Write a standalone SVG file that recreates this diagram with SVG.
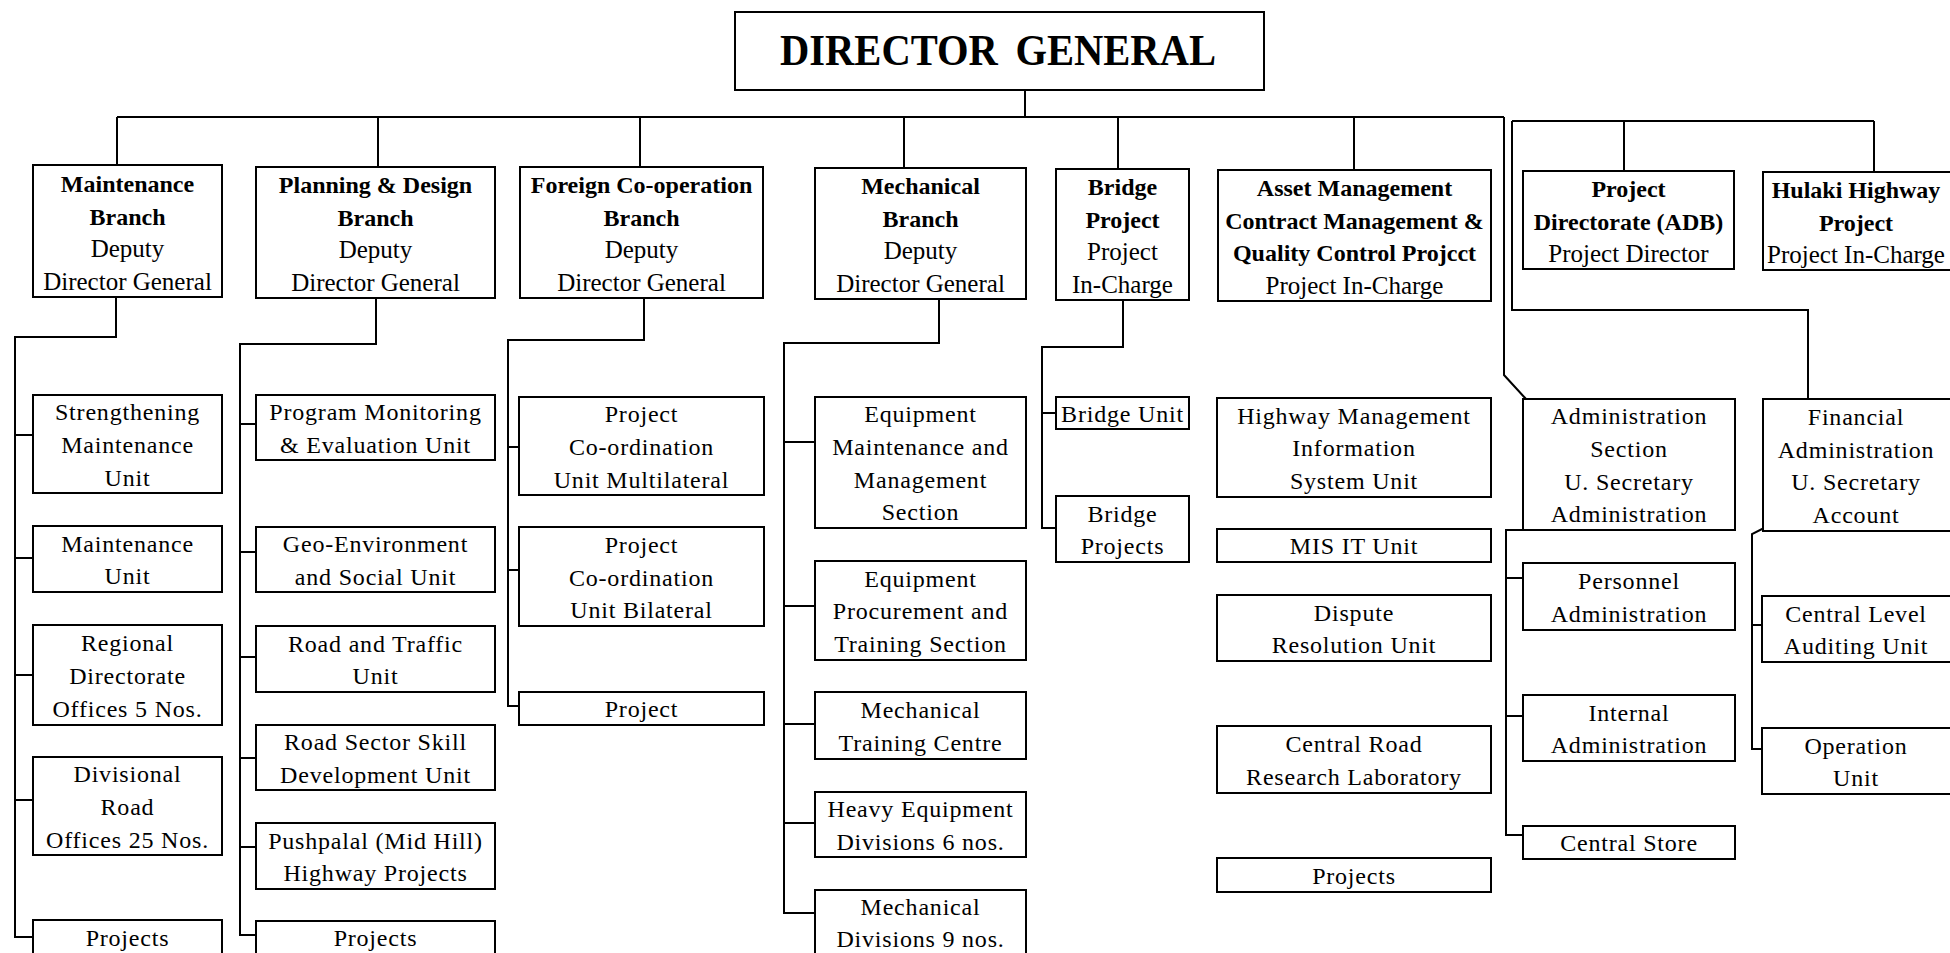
<svg xmlns="http://www.w3.org/2000/svg" width="1950" height="953" viewBox="0 0 1950 953">
  <style>
    .box { fill: #ffffff; stroke: #000000; stroke-width: 2; }
    .wire { fill: none; stroke: #000000; stroke-width: 2; stroke-linejoin: miter; }
    text { font-family: "Liberation Serif", "Times New Roman", serif; fill: #000000; text-anchor: middle; }
    .title { font-size: 44px; font-weight: bold; word-spacing: 8px; }
    .hb { font-size: 24px; font-weight: bold; }
    .hr { font-size: 25px; }
    .t { font-size: 24px; letter-spacing: 0.8px; }
  </style>
  <rect x="0" y="0" width="1950" height="953" fill="#ffffff"/>

  <!-- connectors -->
  <g id="connectors" class="wire">
    <!-- top bar and branch drops -->
    <path d="M1025,90 V117"/>
    <path d="M117,117 H1504"/>
    <path d="M117,117 V165 M378,117 V167 M640,117 V167 M904,117 V168 M1118,117 V169 M1354,117 V170"/>
    <path d="M1504,117 V375 L1526,399"/>
    <path d="M1512,121 H1874 M1624,121 V171 M1874,121 V172"/>
    <path d="M1512,121 V310 H1808 V399"/>
    <!-- maintenance branch units -->
    <path d="M116,297 V337 H15 V937 H33 M15,435 H33 M15,558 H33 M15,675 H33 M15,800 H33"/>
    <!-- planning & design units -->
    <path d="M376,298 V344 H240 V935 H256 M240,424 H256 M240,552 H256 M240,657 H256 M240,758 H256 M240,847 H256"/>
    <!-- foreign co-operation units -->
    <path d="M644,298 V340 H508 V706 H519 M508,447 H519 M508,570 H519"/>
    <!-- mechanical units -->
    <path d="M939,299 V343 H784 V913 H815 M784,442 H815 M784,606 H815 M784,724 H815 M784,823 H815"/>
    <!-- bridge units -->
    <path d="M1123,300 V347 H1042 V528 H1056 M1042,413 H1056"/>
    <!-- administration units -->
    <path d="M1523,530 H1506 V835 H1523 M1506,578 H1523 M1506,716 H1523"/>
    <!-- financial units -->
    <path d="M1766,527 L1752,534 V749 H1762 M1752,625 H1762"/>
  </g>

  <!-- head -->
  <g id="director-general">
    <rect class="box" x="735" y="12" width="529" height="78"/>
    <text class="title" x="998" y="65" textLength="436" lengthAdjust="spacingAndGlyphs">DIRECTOR GENERAL</text>
  </g>

  <!-- branches -->
  <g id="maintenance-branch">
    <rect class="box" x="33" y="165" width="189" height="132"/>
    <text x="127.5"><tspan class="hb" x="127.5" y="192">Maintenance</tspan><tspan class="hb" x="127.5" y="225">Branch</tspan><tspan class="hr" x="127.5" y="257">Deputy</tspan><tspan class="hr" x="127.5" y="290">Director General</tspan></text>
  </g>
  <g id="planning-design-branch">
    <rect class="box" x="256" y="167" width="239" height="131"/>
    <text><tspan class="hb" x="375.5" y="193">Planning &amp; Design</tspan><tspan class="hb" x="375.5" y="226">Branch</tspan><tspan class="hr" x="375.5" y="258">Deputy</tspan><tspan class="hr" x="375.5" y="291">Director General</tspan></text>
  </g>
  <g id="foreign-cooperation-branch">
    <rect class="box" x="520" y="167" width="243" height="131"/>
    <text><tspan class="hb" x="641.5" y="193">Foreign Co-operation</tspan><tspan class="hb" x="641.5" y="226">Branch</tspan><tspan class="hr" x="641.5" y="258">Deputy</tspan><tspan class="hr" x="641.5" y="291">Director General</tspan></text>
  </g>
  <g id="mechanical-branch">
    <rect class="box" x="815" y="168" width="211" height="131"/>
    <text><tspan class="hb" x="920.5" y="194">Mechanical</tspan><tspan class="hb" x="920.5" y="227">Branch</tspan><tspan class="hr" x="920.5" y="259">Deputy</tspan><tspan class="hr" x="920.5" y="292">Director General</tspan></text>
  </g>
  <g id="bridge-project">
    <rect class="box" x="1056" y="169" width="133" height="131"/>
    <text><tspan class="hb" x="1122.5" y="195">Bridge</tspan><tspan class="hb" x="1122.5" y="228">Project</tspan><tspan class="hr" x="1122.5" y="260">Project</tspan><tspan class="hr" x="1122.5" y="293">In-Charge</tspan></text>
  </g>
  <g id="asset-management">
    <rect class="box" x="1218" y="170" width="273" height="131"/>
    <text><tspan class="hb" x="1354.5" y="196">Asset Management</tspan><tspan class="hb" x="1354.5" y="229">Contract Management &amp;</tspan><tspan class="hb" x="1354.5" y="261">Quality Control Projcct</tspan><tspan class="hr" x="1354.5" y="294">Project In-Charge</tspan></text>
  </g>
  <g id="project-directorate-adb">
    <rect class="box" x="1523" y="171" width="211" height="98"/>
    <text><tspan class="hb" x="1628.5" y="197">Project</tspan><tspan class="hb" x="1628.5" y="230">Directorate (ADB)</tspan><tspan class="hr" x="1628.5" y="262">Project Director</tspan></text>
  </g>
  <g id="hulaki-highway">
    <rect class="box" x="1763" y="172" width="200" height="98"/>
    <text><tspan class="hb" x="1856" y="198">Hulaki Highway</tspan><tspan class="hb" x="1856" y="231">Project</tspan><tspan class="hr" x="1856" y="263">Project In-Charge</tspan></text>
  </g>

  <!-- maintenance branch units -->
  <g id="strengthening-maintenance">
    <rect class="box" x="33" y="395" width="189" height="98"/>
    <text class="t"><tspan x="127.5" y="420">Strengthening</tspan><tspan x="127.5" y="453">Maintenance</tspan><tspan x="127.5" y="486">Unit</tspan></text>
  </g>
  <g id="maintenance-unit">
    <rect class="box" x="33" y="526" width="189" height="66"/>
    <text class="t"><tspan x="127.5" y="552">Maintenance</tspan><tspan x="127.5" y="584">Unit</tspan></text>
  </g>
  <g id="regional-directorate">
    <rect class="box" x="33" y="625" width="189" height="100"/>
    <text class="t"><tspan x="127.5" y="651">Regional</tspan><tspan x="127.5" y="684">Directorate</tspan><tspan x="127.5" y="717">Offices 5 Nos.</tspan></text>
  </g>
  <g id="divisional-road">
    <rect class="box" x="33" y="757" width="189" height="98"/>
    <text class="t"><tspan x="127.5" y="782">Divisional</tspan><tspan x="127.5" y="815">Road</tspan><tspan x="127.5" y="848">Offices 25 Nos.</tspan></text>
  </g>
  <g id="maintenance-projects">
    <rect class="box" x="33" y="920" width="189" height="50"/>
    <text class="t" x="127.5" y="946">Projects</text>
  </g>

  <!-- planning & design units -->
  <g id="program-monitoring">
    <rect class="box" x="256" y="395" width="239" height="65"/>
    <text class="t"><tspan x="375.5" y="420">Program Monitoring</tspan><tspan x="375.5" y="453">&amp; Evaluation Unit</tspan></text>
  </g>
  <g id="geo-environment">
    <rect class="box" x="256" y="527" width="239" height="65"/>
    <text class="t"><tspan x="375.5" y="552">Geo-Environment</tspan><tspan x="375.5" y="585">and Social Unit</tspan></text>
  </g>
  <g id="road-traffic">
    <rect class="box" x="256" y="626" width="239" height="66"/>
    <text class="t"><tspan x="375.5" y="652">Road and Traffic</tspan><tspan x="375.5" y="684">Unit</tspan></text>
  </g>
  <g id="road-sector-skill">
    <rect class="box" x="256" y="725" width="239" height="65"/>
    <text class="t"><tspan x="375.5" y="750">Road Sector Skill</tspan><tspan x="375.5" y="783">Development Unit</tspan></text>
  </g>
  <g id="pushpalal">
    <rect class="box" x="256" y="823" width="239" height="66"/>
    <text class="t"><tspan x="375.5" y="849">Pushpalal (Mid Hill)</tspan><tspan x="375.5" y="881">Highway Projects</tspan></text>
  </g>
  <g id="planning-projects">
    <rect class="box" x="256" y="921" width="239" height="50"/>
    <text class="t" x="375.5" y="946">Projects</text>
  </g>

  <!-- foreign co-operation units -->
  <g id="pcu-multilateral">
    <rect class="box" x="519" y="397" width="245" height="98"/>
    <text class="t"><tspan x="641.5" y="422">Project</tspan><tspan x="641.5" y="455">Co-ordination</tspan><tspan x="641.5" y="488">Unit Multilateral</tspan></text>
  </g>
  <g id="pcu-bilateral">
    <rect class="box" x="519" y="527" width="245" height="99"/>
    <text class="t"><tspan x="641.5" y="553">Project</tspan><tspan x="641.5" y="586">Co-ordination</tspan><tspan x="641.5" y="618">Unit Bilateral</tspan></text>
  </g>
  <g id="foreign-project">
    <rect class="box" x="519" y="692" width="245" height="33"/>
    <text class="t" x="641.5" y="717">Project</text>
  </g>

  <!-- mechanical units -->
  <g id="equipment-maintenance">
    <rect class="box" x="815" y="397" width="211" height="131"/>
    <text class="t"><tspan x="920.5" y="422">Equipment</tspan><tspan x="920.5" y="455">Maintenance and</tspan><tspan x="920.5" y="488">Management</tspan><tspan x="920.5" y="520">Section</tspan></text>
  </g>
  <g id="equipment-procurement">
    <rect class="box" x="815" y="561" width="211" height="99"/>
    <text class="t"><tspan x="920.5" y="587">Equipment</tspan><tspan x="920.5" y="619">Procurement and</tspan><tspan x="920.5" y="652">Training Section</tspan></text>
  </g>
  <g id="mechanical-training">
    <rect class="box" x="815" y="692" width="211" height="67"/>
    <text class="t"><tspan x="920.5" y="718">Mechanical</tspan><tspan x="920.5" y="751">Training Centre</tspan></text>
  </g>
  <g id="heavy-equipment">
    <rect class="box" x="815" y="792" width="211" height="65"/>
    <text class="t"><tspan x="920.5" y="817">Heavy Equipment</tspan><tspan x="920.5" y="850">Divisions 6 nos.</tspan></text>
  </g>
  <g id="mechanical-divisions">
    <rect class="box" x="815" y="890" width="211" height="80"/>
    <text class="t"><tspan x="920.5" y="915">Mechanical</tspan><tspan x="920.5" y="947">Divisions 9 nos.</tspan></text>
  </g>

  <!-- bridge units -->
  <g id="bridge-unit">
    <rect class="box" x="1056" y="397" width="133" height="32"/>
    <text class="t" x="1122.5" y="422">Bridge Unit</text>
  </g>
  <g id="bridge-projects">
    <rect class="box" x="1056" y="496" width="133" height="66"/>
    <text class="t"><tspan x="1122.5" y="522">Bridge</tspan><tspan x="1122.5" y="554">Projects</tspan></text>
  </g>

  <!-- asset management units -->
  <g id="hmis-unit">
    <rect class="box" x="1217" y="398" width="274" height="99"/>
    <text class="t"><tspan x="1354" y="424">Highway Management</tspan><tspan x="1354" y="456">Information</tspan><tspan x="1354" y="489">System Unit</tspan></text>
  </g>
  <g id="mis-it-unit">
    <rect class="box" x="1217" y="529" width="274" height="33"/>
    <text class="t" x="1354" y="554">MIS IT Unit</text>
  </g>
  <g id="dispute-resolution">
    <rect class="box" x="1217" y="595" width="274" height="66"/>
    <text class="t"><tspan x="1354" y="621">Dispute</tspan><tspan x="1354" y="653">Resolution Unit</tspan></text>
  </g>
  <g id="central-road-lab">
    <rect class="box" x="1217" y="726" width="274" height="67"/>
    <text class="t"><tspan x="1354" y="752">Central Road</tspan><tspan x="1354" y="785">Research Laboratory</tspan></text>
  </g>
  <g id="asset-projects">
    <rect class="box" x="1217" y="858" width="274" height="34"/>
    <text class="t" x="1354" y="884">Projects</text>
  </g>

  <!-- administration units -->
  <g id="administration-section">
    <rect class="box" x="1523" y="399" width="212" height="131"/>
    <text class="t"><tspan x="1629" y="424">Administration</tspan><tspan x="1629" y="457">Section</tspan><tspan x="1629" y="490">U. Secretary</tspan><tspan x="1629" y="522">Administration</tspan></text>
  </g>
  <g id="personnel-administration">
    <rect class="box" x="1523" y="563" width="212" height="67"/>
    <text class="t"><tspan x="1629" y="589">Personnel</tspan><tspan x="1629" y="622">Administration</tspan></text>
  </g>
  <g id="internal-administration">
    <rect class="box" x="1523" y="695" width="212" height="66"/>
    <text class="t"><tspan x="1629" y="721">Internal</tspan><tspan x="1629" y="753">Administration</tspan></text>
  </g>
  <g id="central-store">
    <rect class="box" x="1523" y="826" width="212" height="33"/>
    <text class="t" x="1629" y="851">Central Store</text>
  </g>

  <!-- financial units -->
  <g id="financial-administration">
    <rect class="box" x="1763" y="399" width="200" height="132"/>
    <text class="t"><tspan x="1856" y="425">Financial</tspan><tspan x="1856" y="458">Administration</tspan><tspan x="1856" y="490">U. Secretary</tspan><tspan x="1856" y="523">Account</tspan></text>
  </g>
  <g id="central-auditing">
    <rect class="box" x="1762" y="596" width="201" height="66"/>
    <text class="t"><tspan x="1856" y="622">Central Level</tspan><tspan x="1856" y="654">Auditing Unit</tspan></text>
  </g>
  <g id="operation-unit">
    <rect class="box" x="1762" y="728" width="201" height="66"/>
    <text class="t"><tspan x="1856" y="754">Operation</tspan><tspan x="1856" y="786">Unit</tspan></text>
  </g>
</svg>
